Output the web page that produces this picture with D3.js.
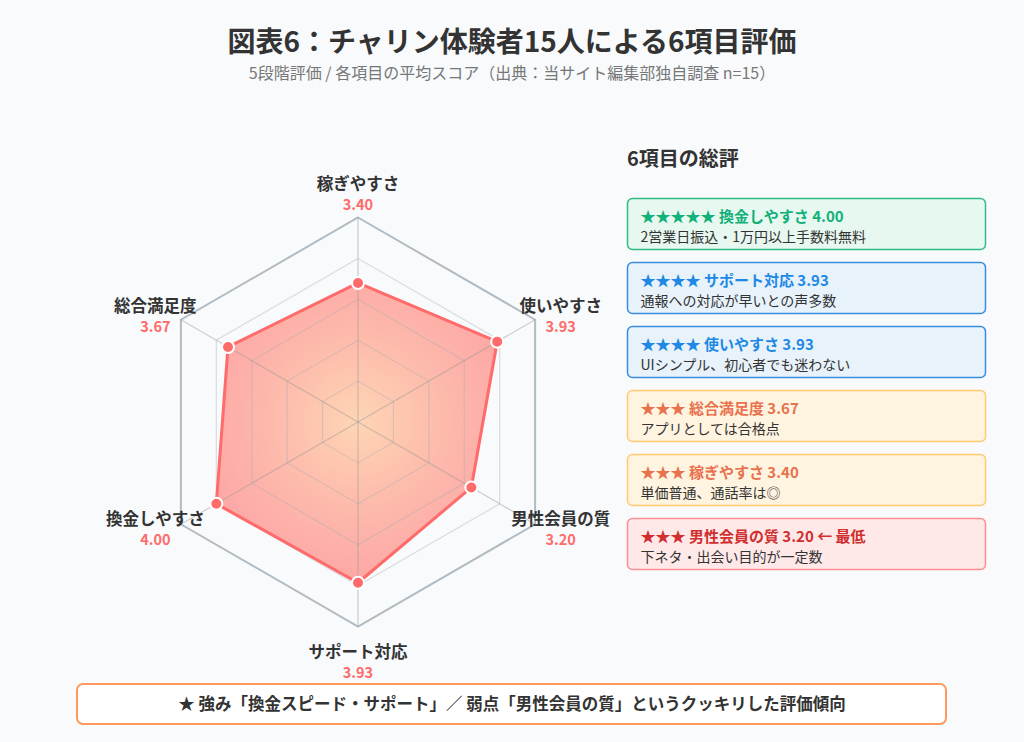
<!DOCTYPE html>
<html><head><meta charset="utf-8">
<script src="https://cdn.jsdelivr.net/npm/d3@7/dist/d3.min.js"></script>
<style>
html,body{margin:0;padding:0;background:#f8fafc;}
svg{display:block;font-family:"Noto Sans CJK JP","Noto Sans",sans-serif;}
</style></head><body>
<svg id="chart" width="1024" height="742"></svg>
<script>
const categories = ["稼ぎやすさ","使いやすさ","男性会員の質","サポート対応","換金しやすさ","総合満足度"];
const values = [3.40, 3.93, 3.20, 3.93, 4.00, 3.67];
const gridLevels = [1,2,3,4,5];
const cardTitles = ["★★★★★ 換金しやすさ 4.00","★★★★ サポート対応 3.93","★★★★ 使いやすさ 3.93","★★★ 総合満足度 3.67","★★★ 稼ぎやすさ 3.40","★★★ 男性会員の質 3.20 ← 最低"];
const cardDescs = ["2営業日振込・1万円以上手数料無料","通報への対応が早いとの声多数","UIシンプル、初心者でも迷わない","アプリとしては合格点","単価普通、通話率は◎","下ネタ・出会い目的が一定数"];
const cardKinds = ["green","blue","blue","orange","orange","red"];

const svg = d3.select("#chart");
svg.append("rect").attr("width",1024).attr("height",742).attr("fill","#f8fafc");

svg.append("text").attr("x",512).attr("y",52).attr("text-anchor","middle")
  .attr("font-size",28).attr("font-weight","bold").attr("fill","#333").text("図表6：チャリン体験者15人による6項目評価");
svg.append("text").attr("x",512).attr("y",79).attr("text-anchor","middle")
  .attr("font-size",16).attr("fill","#777").text("5段階評価 / 各項目の平均スコア（出典：当サイト編集部独自調査 n=15）");

// radar
const cx = 358, cy = 422, R = 204.5;
const r = d3.scaleLinear().domain([0,5]).range([0,R]);
const ang = d3.scaleLinear().domain([0,categories.length]).range([0,2*Math.PI]);
const pt = (i,v)=>[cx + r(v)*Math.sin(ang(i)), cy - r(v)*Math.cos(ang(i))];

const defs = svg.append("defs");
const rg = defs.append("radialGradient").attr("id","fillGrad").attr("gradientUnits","userSpaceOnUse")
  .attr("cx",cx).attr("cy",cy).attr("r",R*0.85);
rg.append("stop").attr("offset","0%").attr("stop-color","#ffcfa8").attr("stop-opacity",0.85);
rg.append("stop").attr("offset","100%").attr("stop-color","#ff8080").attr("stop-opacity",0.7);

const g = svg.append("g");
const line = d3.line().curve(d3.curveLinearClosed);

const dataPts = values.map((v,i)=>pt(i,v));
g.append("path").attr("d",line(dataPts)).attr("fill","url(#fillGrad)").attr("stroke","none");

gridLevels.forEach(l=>{
  g.append("path").attr("d",line(categories.map((c,i)=>pt(i,l))))
   .attr("fill","none")
   .attr("stroke", l===5 ? "#b0bcc4" : "rgba(160,170,180,0.35)")
   .attr("stroke-width", l===5 ? 2 : 1.2);
});
categories.forEach((c,i)=>{
  const p = pt(i,5);
  g.append("line").attr("x1",cx).attr("y1",cy).attr("x2",p[0]).attr("y2",p[1])
   .attr("stroke","rgba(150,150,150,0.45)").attr("stroke-width",1.2);
});

g.append("path").attr("d",line(dataPts)).attr("fill","none").attr("stroke","#ff6b6b").attr("stroke-width",3).attr("stroke-linejoin","round");
g.selectAll("circle.pt").data(dataPts).join("circle").attr("class","pt")
  .attr("cx",d=>d[0]).attr("cy",d=>d[1]).attr("r",6).attr("fill","#ff6b6b").attr("stroke","#fff").attr("stroke-width",2);

// labels
const nameDy = [-4, 1, -20, -4, -20, 1];
categories.forEach((c,i)=>{
  const a = ang(i);
  const lr = 234;
  const lx = cx + lr*Math.sin(a);
  const ly = cy - lr*Math.cos(a) + nameDy[i];
  g.append("text").attr("x",lx).attr("y",ly+6).attr("text-anchor","middle")
    .attr("font-size",16.5).attr("font-weight","bold").attr("fill","#333").text(c);
  g.append("text").attr("x",lx).attr("y",ly+26).attr("text-anchor","middle")
    .attr("font-size",14.5).attr("font-weight","bold").attr("fill","#ff6b6b").text(values[i].toFixed(2));
});

// right panel
svg.append("text").attr("x",627).attr("y",166).attr("font-size",20).attr("font-weight","bold").attr("fill","#333").text("6項目の総評");
const palette = {
  green:{stroke:"#2ebd85",fill:"#e7f8f0",title:"#12b07a"},
  blue:{stroke:"#3a8ee0",fill:"#e7f2fb",title:"#1e88e5"},
  orange:{stroke:"#ffcc70",fill:"#fff4e0",title:"#e8714e"},
  red:{stroke:"#ff8f8f",fill:"#ffe8e8",title:"#cf2f2f"}
};
const cards = svg.selectAll("g.card").data(cardTitles).join("g").attr("class","card")
  .attr("transform",(d,i)=>`translate(627.5,${198.5+64*i})`);
cards.append("rect").attr("width",358).attr("height",51).attr("rx",5)
  .attr("fill",(d,i)=>palette[cardKinds[i]].fill).attr("stroke",(d,i)=>palette[cardKinds[i]].stroke).attr("stroke-width",1.5);
cards.append("text").attr("x",13).attr("y",23).attr("font-size",15).attr("font-weight","bold")
  .attr("fill",(d,i)=>palette[cardKinds[i]].title).text(d=>d);
cards.append("text").attr("x",13).attr("y",43).attr("font-size",14).attr("fill","#333").text((d,i)=>cardDescs[i]);

// bottom banner
svg.append("rect").attr("x",77).attr("y",684).attr("width",869).attr("height",40).attr("rx",6)
  .attr("fill","#fff").attr("stroke","#ff9a5c").attr("stroke-width",2);
svg.append("text").attr("x",512).attr("y",710).attr("text-anchor","middle").attr("font-size",16.5).attr("font-weight","bold").attr("fill","#333")
  .text("★ 強み「換金スピード・サポート」／ 弱点「男性会員の質」というクッキリした評価傾向");
</script>
</body></html>
